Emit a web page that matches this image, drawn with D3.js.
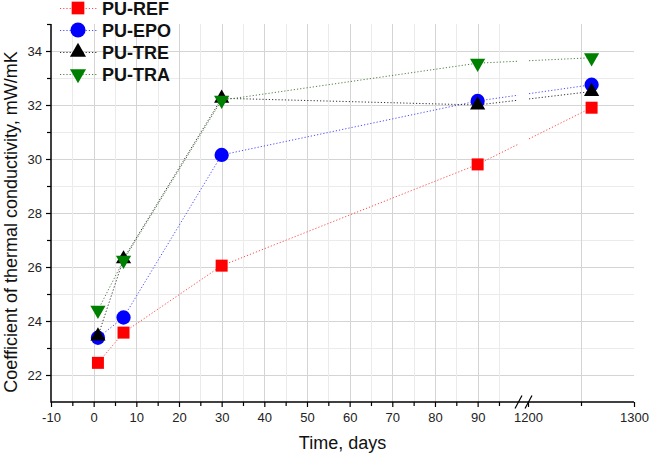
<!DOCTYPE html>
<html lang="en">

<head>
  <meta charset="UTF-8" />
  <title>Thermal conductivity vs time</title>
  <script src="https://cdn.jsdelivr.net/npm/d3@7"></script>
  <style>
    body {
      margin: 0;
      background: #fff;
    }

    svg {
      font-family: Arial, "Liberation Sans", sans-serif;
    }

    .grid-major {
      stroke: #d4d4d4;
      stroke-width: 1px;
    }

    .grid-minor {
      stroke: #ebebeb;
      stroke-width: 1px;
    }

    .data-line {
      fill: none;
      stroke-width: 1px;
      stroke-dasharray: 1.2, 2;
    }

    .axis path {
      display: none;
    }

    .axis line {
      stroke: #000;
      stroke-width: 1.2px;
    }

    .axis text {
      font-size: 13px;
      fill: #222;
    }
  </style>
</head>

<body>
  <script>
    // values
    var days = [1, 7, 30, 90, 1260];
    var seriesNames = ["PU-REF", "PU-EPO", "PU-TRE", "PU-TRA"];
    var refValues = [22.45, 23.57, 26.05, 29.8, 31.9];
    var epoValues = [23.38, 24.13, 30.15, 32.15, 32.75];
    var treValues = [23.44, 26.3, 32.25, 32.0, 32.5];
    var traValues = [24.4, 26.25, 32.18, 33.55, 33.75];

    var yMajorTicks = [22, 24, 26, 28, 30, 32, 34];
    var yMinorTicks = [23, 25, 27, 29, 31, 33, 35];
    var xMajorTicks = [-10, 0, 10, 20, 30, 40, 50, 60, 70, 80, 90];
    var xMinorTicks = [-5, 5, 15, 25, 35, 45, 55, 65, 75, 85, 95];
    var xBreakMajorTicks = [1200, 1300];
    var xBreakMinorTicks = [1250];

    var w = 660;
    var h = 455;

    var series = [
      { name: seriesNames[0], values: refValues, color: "#ff0000", lineColor: "#ff4a4a", shape: "square" },
      { name: seriesNames[1], values: epoValues, color: "#0000ff", lineColor: "#4a4aff", shape: "circle" },
      { name: seriesNames[2], values: treValues, color: "#000000", lineColor: "#333333", shape: "up" },
      { name: seriesNames[3], values: traValues, color: "#008000", lineColor: "#4f7f45", shape: "down" }
    ];

    // broken x axis: two linear pieces
    var x1 = d3.scaleLinear().domain([-10, 100]).range([51, 520.3]);
    var x2 = d3.scaleLinear().domain([1200, 1300]).range([528, 634]);
    var gapStart = 518;
    var gapEnd = 529;

    function xPos(v) {
      return v < 1000 ? x1(v) : x2(v);
    }

    var plainNumber = function(d) { return String(d); };

    var yScale = d3.scaleLinear().domain([21, 35]).range([402, 24]);

    var svg = d3.select("body")
      .append("svg")
      .attr("width", w)
      .attr("height", h);

    // grid
    var grid = svg.append("g");
    grid.selectAll(".hgrid")
      .data(yMajorTicks.concat(yMinorTicks.filter(function(d) { return d < 35; })))
      .enter()
      .append("line")
      .attr("class", function(d) { return d % 2 == 0 ? "grid-major" : "grid-minor"; })
      .attr("x1", 51)
      .attr("x2", 634)
      .attr("y1", function(d) { return Math.round(yScale(d)) + 0.5; })
      .attr("y2", function(d) { return Math.round(yScale(d)) + 0.5; });

    grid.selectAll(".vgrid")
      .data(xMajorTicks.slice(1).concat(xMinorTicks).concat(xBreakMinorTicks))
      .enter()
      .append("line")
      .attr("class", function(d) { return (d % 10 == 0) ? "grid-major" : "grid-minor"; })
      .attr("x1", function(d) { return Math.round(xPos(d)) + 0.5; })
      .attr("x2", function(d) { return Math.round(xPos(d)) + 0.5; })
      .attr("y1", yScale(35))
      .attr("y2", yScale(21));

    // lines, cut at the axis break
    var line = d3.line()
      .defined(function(d) { return d != null; })
      .x(function(d) { return d[0]; })
      .y(function(d) { return d[1]; });

    function linePoints(values) {
      var pts = [];
      for (var i = 0; i < days.length; i++) {
        var p = [xPos(days[i]), yScale(values[i])];
        if (i > 0 && days[i - 1] < 1000 && days[i] > 1000) {
          var prev = pts[pts.length - 1];
          var t1 = (gapStart - prev[0]) / (p[0] - prev[0]);
          var t2 = (gapEnd - prev[0]) / (p[0] - prev[0]);
          pts.push([gapStart, prev[1] + t1 * (p[1] - prev[1])]);
          pts.push(null);
          pts.push([gapEnd, prev[1] + t2 * (p[1] - prev[1])]);
        }
        pts.push(p);
      }
      return pts;
    }

    svg.append("g")
      .selectAll("path")
      .data(series)
      .enter()
      .append("path")
      .attr("class", "data-line")
      .attr("stroke", function(d) { return d.lineColor; })
      .attr("d", function(d) { return line(linePoints(d.values)); });

    function symbolPath(shape, big) {
      var k = big ? 1.12 : 1;
      if (shape == "square") return d3.symbol().type(d3.symbolSquare).size(144 * k)();
      if (shape == "circle") return d3.symbol().type(d3.symbolCircle).size(160 * k)();
      return d3.symbol().type(d3.symbolTriangle).size(100 * k)();
    }

    function symbolTransform(shape, x, y) {
      return "translate(" + x + "," + y + ")" + (shape == "down" ? " rotate(180)" : "");
    }

    // markers
    series.forEach(function(s) {
      svg.append("g")
        .selectAll("path")
        .data(s.values)
        .enter()
        .append("path")
        .attr("d", symbolPath(s.shape, false))
        .attr("fill", s.color)
        .attr("transform", function(d, i) {
          return symbolTransform(s.shape, xPos(days[i]), yScale(d));
        });
    });

    // axes
    svg.append("g")
      .attr("class", "axis")
      .attr("transform", "translate(0,402)")
      .call(d3.axisBottom(x1).tickValues(xMajorTicks).tickSize(5).tickPadding(6).tickFormat(plainNumber));
    svg.append("g")
      .attr("class", "axis")
      .attr("transform", "translate(0,402)")
      .call(d3.axisBottom(x1).tickValues(xMinorTicks).tickSize(4).tickFormat(""));
    svg.append("g")
      .attr("class", "axis")
      .attr("transform", "translate(0,402)")
      .call(d3.axisBottom(x2).tickValues(xBreakMajorTicks).tickSize(5).tickPadding(6).tickFormat(plainNumber));
    svg.append("g")
      .attr("class", "axis")
      .attr("transform", "translate(0,402)")
      .call(d3.axisBottom(x2).tickValues(xBreakMinorTicks).tickSize(4).tickFormat(""));

    svg.append("g")
      .attr("class", "axis")
      .attr("transform", "translate(51,0)")
      .call(d3.axisLeft(yScale).tickValues(yMajorTicks).tickSize(5).tickPadding(4).tickFormat(plainNumber));
    svg.append("g")
      .attr("class", "axis")
      .attr("transform", "translate(51,0)")
      .call(d3.axisLeft(yScale).tickValues(yMinorTicks).tickSize(4).tickFormat(""));

    svg.append("line")
      .attr("x1", 51).attr("x2", 634)
      .attr("y1", 402).attr("y2", 402)
      .attr("stroke", "#000").attr("stroke-width", 1.5);
    svg.append("line")
      .attr("x1", 51).attr("x2", 51)
      .attr("y1", yScale(35)).attr("y2", 402.7)
      .attr("stroke", "#000").attr("stroke-width", 1.5);

    // break marks
    svg.selectAll(".break")
      .data([518.5, 528.5])
      .enter()
      .append("line")
      .attr("x1", function(d) { return d - 3.5; })
      .attr("x2", function(d) { return d + 3.5; })
      .attr("y1", 408.5)
      .attr("y2", 395.5)
      .attr("stroke", "#000")
      .attr("stroke-width", 1.2);

    // axis titles
    svg.append("text")
      .attr("x", 342.5)
      .attr("y", 449)
      .attr("text-anchor", "middle")
      .style("font-size", "18px")
      .style("fill", "#111")
      .text("Time, days");

    svg.append("text")
      .attr("transform", "translate(17,222) rotate(-90)")
      .attr("text-anchor", "middle")
      .style("font-size", "18px")
      .style("fill", "#111")
      .text("Coefficient of thermal conductivity, mW/mK");

    // legend
    var legendY = [8, 30, 52, 74];
    var legend = svg.append("g")
      .selectAll("g")
      .data(series)
      .enter()
      .append("g")
      .attr("transform", function(d, i) { return "translate(0," + legendY[i] + ")"; });

    legend.append("line")
      .attr("class", "data-line")
      .attr("x1", 60)
      .attr("x2", 97)
      .attr("y1", 0.5)
      .attr("y2", 0.5)
      .attr("stroke", function(d) { return d.lineColor; });

    legend.append("path")
      .attr("d", function(d) { return symbolPath(d.shape, true); })
      .attr("fill", function(d) { return d.color; })
      .attr("transform", function(d) { return symbolTransform(d.shape, 78, 0); });

    legend.append("text")
      .attr("x", 102)
      .attr("y", 6.5)
      .style("font-size", "18px")
      .style("font-weight", "bold")
      .style("fill", "#111")
      .text(function(d) { return d.name; });
  </script>
</body>

</html>
